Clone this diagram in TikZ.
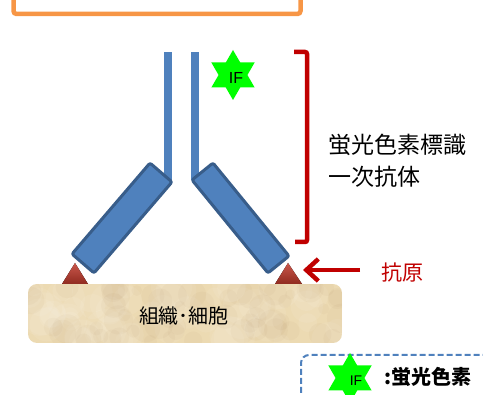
\documentclass[tikz,border=0pt]{standalone}
\usepackage{fontspec}
\setmainfont{Liberation Sans}
\newfontfamily\jp{Noto Sans CJK JP}
\usetikzlibrary{shapes.geometric,arrows.meta}
\definecolor{abblue}{HTML}{4F81BD}
\definecolor{abedge}{HTML}{385D8A}
\definecolor{brred}{HTML}{C00000}
\definecolor{boxorange}{HTML}{F79646}
\definecolor{agred}{HTML}{C0392B}
\definecolor{tissuefill}{HTML}{ECDAB2}
\definecolor{ifgreen}{HTML}{00FF00}

\begin{document}
\begin{tikzpicture}[x=1pt,y=-1pt,
  stem/.style={fill=abblue,draw=none},
  armbox/.style={fill=abblue,draw=abedge,line width=3pt,rounded corners=2pt,line join=round},
  ifstar/.style={star,star points=6,star point ratio=1.732,fill=ifgreen,draw=none,
    inner sep=0pt,minimum size=#1},
  antigen/.style={top color=agred!85!white,bottom color=agred!75!black,draw=none},
  bracket/.style={draw=brred,line width=4.5pt,rounded corners=2pt},
  jplabel/.style={font=\jp\fontsize{#1}{#1}\selectfont,inner sep=0pt},
]
\useasboundingbox (0,0) rectangle (483,395);
\clip (0,0) rectangle (483,395);

% frame of the panel above
\draw[boxorange,line width=4.5pt,rounded corners=3pt] (13.5,-20) rectangle (300.5,14);

% antigens on the tissue surface
\fill[antigen] (62,284) -- (75,263) -- (88,284) -- cycle;
\fill[antigen] (275,284) -- (288,263) -- (302,284) -- cycle;
\coordinate (agR) at (303,270);

% tissue block with a soft mottled fill
\begin{scope}
  \path[clip,rounded corners=9pt] (28,284) rectangle (342,343);
  \fill[tissuefill] (28,284) rectangle (342,343);
  \pgfmathsetseed{7}
  \foreach \i in {1,...,60}{
    \pgfmathsetmacro{\px}{28+314*rnd}
    \pgfmathsetmacro{\py}{284+59*rnd}
    \pgfmathsetmacro{\pr}{8+14*rnd}
    \fill[white,opacity=0.07] (\px,\py) circle[radius=\pr];
  }
  \foreach \i in {1,...,60}{
    \pgfmathsetmacro{\px}{28+314*rnd}
    \pgfmathsetmacro{\py}{284+59*rnd}
    \pgfmathsetmacro{\pr}{5+10*rnd}
    \fill[brown!70!black,opacity=0.035] (\px,\py) circle[radius=\pr];
  }
\end{scope}
\node[jplabel=20] (tissue) at (184,316) {組織･細胞};

% antibody: stems and arms
\fill[stem] (164,52) rectangle (172,182);
\fill[stem] (191,52) rectangle (199,180);
\draw[armbox] (150,163) -- (172,182) -- (94,273) -- (72,254) -- cycle;
\draw[armbox] (213,163) -- (192,180) -- (268,273) -- (289,256) -- cycle;

% fluorescent label
\node[ifstar=50pt] (ifmark) at (233,75) {};
\node[font=\fontsize{16}{16}\selectfont,inner sep=0pt] (iftext) at (236,78) {IF};

% bracket and its two-line label
\draw[bracket] (294,52) -- (307,52) -- (307,242) -- (295,242);
\node[jplabel=23,anchor=west] (ablabel) at (328,145) {蛍光色素標識};
\node[jplabel=23,anchor=west] (ablabel2) at (328,177) {一次抗体};

% antigen pointer
\coordinate (arrowtail) at (360,270);
\draw[brred,line width=4.5pt,-{Straight Barb[length=12pt,width=22pt]}] (arrowtail) -- (agR);
\node[jplabel=21,text=brred,anchor=west] (aglabel) at (381,273) {抗原};

% legend
\draw[abblue,line width=2pt,dash pattern=on 6pt off 3pt,rounded corners=8pt]
  (301,420) -- (301,355) -- (500,355);
\node[ifstar=50pt] (legstar) at (350,378) {};
\node[font=\fontsize{14}{14}\selectfont,inner sep=0pt] (legif) at (356,381) {IF};
\node[font=\jp\bfseries\fontsize{20}{20}\selectfont,inner sep=0pt,anchor=west] (legtext) at (384,377) {:蛍光色素};
\end{tikzpicture}
\end{document}
